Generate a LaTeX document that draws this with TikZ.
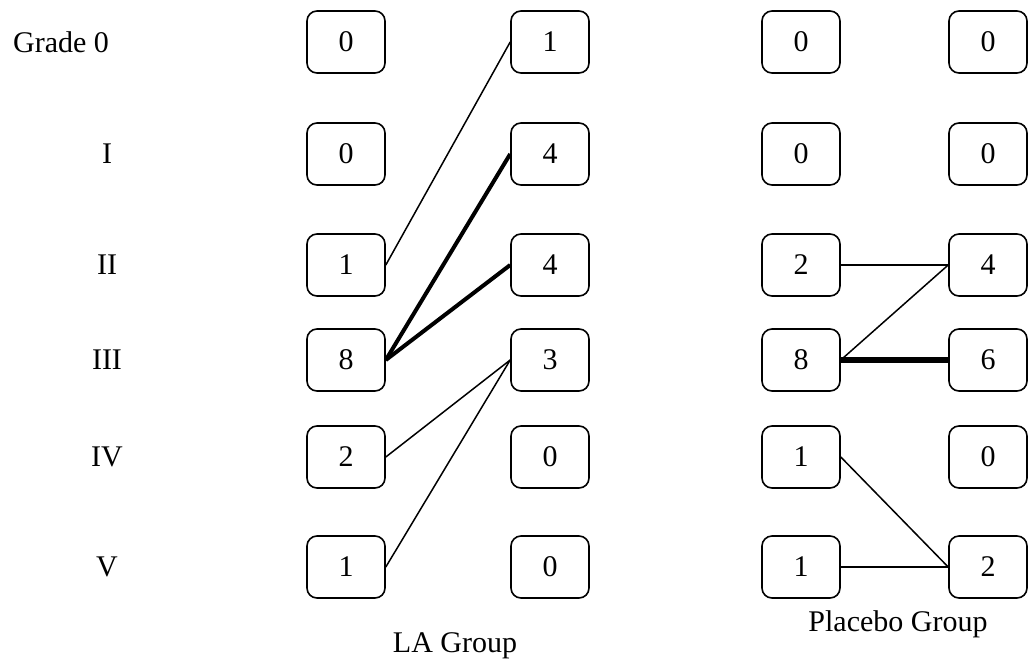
\documentclass[tikz,border=0pt]{standalone}
\usepackage{fontspec}
\setmainfont{Liberation Serif}
\begin{document}
\begin{tikzpicture}[x=1pt,y=-1pt,
  every node/.style={font=\fontsize{30}{36}\selectfont},
  cell/.style={draw,rounded corners=10pt,line width=1.6pt,minimum width=78pt,minimum height=62pt,inner sep=0pt},
  grade/.style={inner sep=0pt},
  link/.style={line width=1.5pt},
  heavy/.style={line width=4pt},
  heavier/.style={line width=6pt}]
\useasboundingbox (0,0) rectangle (1028,670);

% grade labels
\node[grade,anchor=west] (g0) at (13,42) {Grade 0};
\node[grade] (g1) at (107,154) {I};
\node[grade] (g2) at (107,265) {II};
\node[grade] (g3) at (107,360) {III};
\node[grade] (g4) at (107,457) {IV};
\node[grade] (g5) at (107,567) {V};

% LA group: before and after
\node[cell] (a0) at (346,42) {0};
\node[cell] (a1) at (346,154) {0};
\node[cell] (a2) at (346,265) {1};
\node[cell] (a3) at (346,360) {8};
\node[cell] (a4) at (346,457) {2};
\node[cell] (a5) at (346,567) {1};
\node[cell] (b0) at (550,42) {1};
\node[cell] (b1) at (550,154) {4};
\node[cell] (b2) at (550,265) {4};
\node[cell] (b3) at (550,360) {3};
\node[cell] (b4) at (550,457) {0};
\node[cell] (b5) at (550,567) {0};

% Placebo group: before and after
\node[cell] (c0) at (801,42) {0};
\node[cell] (c1) at (801,154) {0};
\node[cell] (c2) at (801,265) {2};
\node[cell] (c3) at (801,360) {8};
\node[cell] (c4) at (801,457) {1};
\node[cell] (c5) at (801,567) {1};
\node[cell] (d0) at (988,42) {0};
\node[cell] (d1) at (988,154) {0};
\node[cell] (d2) at (988,265) {4};
\node[cell] (d3) at (988,360) {6};
\node[cell] (d4) at (988,457) {0};
\node[cell] (d5) at (988,567) {2};

% transitions
\draw[link] (a2.east) -- (b0.west);
\draw[heavy] (a3.east) -- (b1.west);
\draw[heavy] (a3.east) -- (b2.west);
\draw[link] (a4.east) -- (b3.west);
\draw[link] (a5.east) -- (b3.west);

\draw[link] (c2.east) -- (d2.west);
\draw[link] (c3.east) -- (d2.west);
\draw[heavier] (c3.east) -- (d3.west);
\draw[link] (c4.east) -- (d5.west);
\draw[link] (c5.east) -- (d5.west);

% group captions
\node[anchor=base] (la) at (455,652) {LA Group};
\node[anchor=base] (pl) at (898,631) {Placebo Group};
\end{tikzpicture}
\end{document}
